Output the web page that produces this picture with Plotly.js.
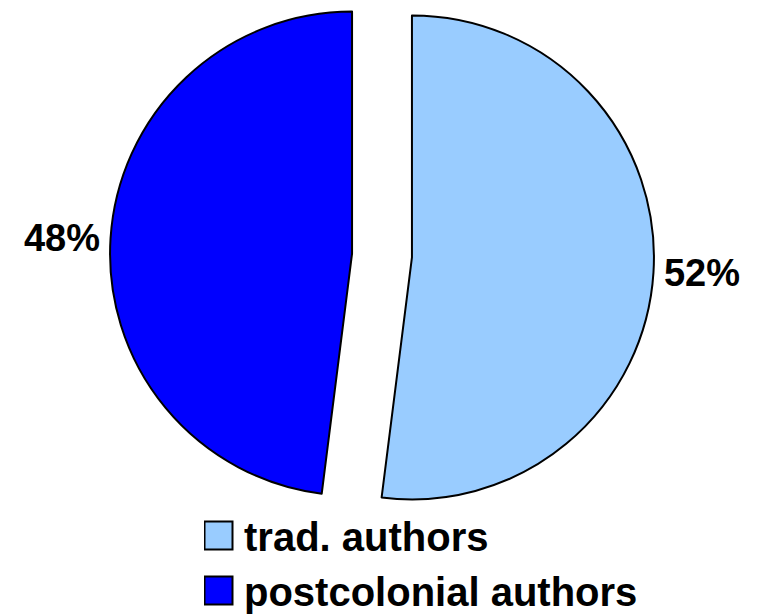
<!DOCTYPE html>
<html>
<head>
<meta charset="utf-8">
<script src="https://cdn.plot.ly/plotly-3.0.1.min.js"></script>
<style>
  html, body { margin: 0; padding: 0; background: #fff; overflow: hidden; }
  #wrap { position: relative; width: 763px; height: 616px; overflow: hidden; }
  #chart { position: absolute; left: 0; top: -40px; width: 763px; height: 720px; }
</style>
</head>
<body>
<div id="wrap"><div id="chart"></div></div>
<script>
const categories = ["trad. authors", "postcolonial authors"];
const shares = [52, 48];
const sliceColors = ["#99CCFF", "#0000FF"];

const FONT = 'Arial, "Liberation Sans", sans-serif';

const data = [{
  type: "pie",
  labels: categories,
  values: shares,
  sort: false,
  direction: "clockwise",
  rotation: 0,
  pull: [0.124, 0.124],
  marker: { colors: sliceColors, line: { color: "#000000", width: 2 } },
  textinfo: "percent",
  textposition: "outside",
  textfont: { family: FONT, size: 38, color: "#000000", weight: "bold" },
  hoverinfo: "label+percent",
  domain: { x: [0.14417, 0.85714], y: [0.21181, 0.96736] }
}];

const layout = {
  width: 763,
  height: 720,
  margin: { l: 0, r: 0, t: 0, b: 0, autoexpand: false },
  paper_bgcolor: "#ffffff",
  showlegend: true,
  legend: {
    x: 204 / 763, xanchor: "left",
    y: 1 - 543 / 720, yanchor: "top",
    font: { family: FONT, size: 40, color: "#000000", weight: "bold" },
    bgcolor: "rgba(0,0,0,0)",
    traceorder: "normal"
  }
};

Plotly.newPlot("chart", data, layout, { staticPlot: true, displayModeBar: false }).then(function () {
  document.querySelectorAll("#chart .legendpie").forEach(function (p) {
    p.setAttribute("d", "M8.5,14H-19.5V-14H8.5Z");
    p.style.strokeWidth = "2px";
    p.style.stroke = "#000000";
  });
});
</script>
</body>
</html>
